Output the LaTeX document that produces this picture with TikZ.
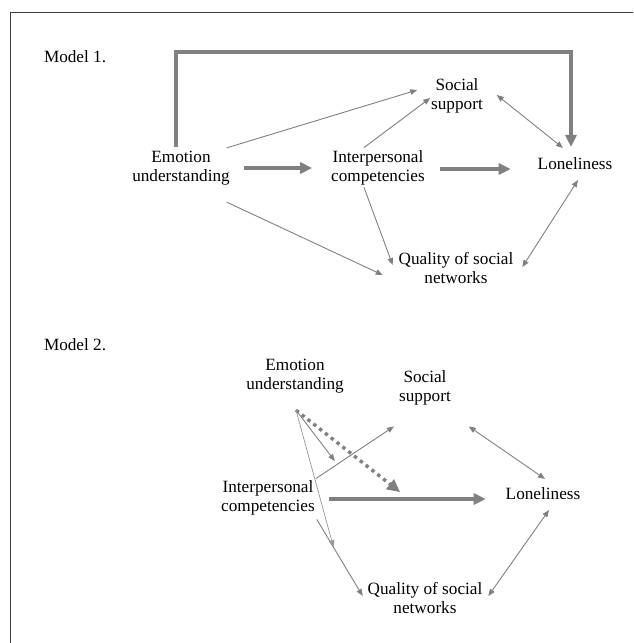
\documentclass[tikz,border=0pt]{standalone}
\usepackage{fontspec}
\setmainfont{Liberation Serif}
\usetikzlibrary{arrows.meta}
\definecolor{arrgray}{RGB}{128,128,128}
\definecolor{lightgray2}{RGB}{150,150,150}
\definecolor{framegray}{RGB}{60,60,60}
\begin{document}
\begin{tikzpicture}[x=1pt,y=-1pt,
  lbl/.style={font=\fontsize{17.2}{19.2}\selectfont, align=center, inner sep=0pt, outer sep=0pt},
  thinarr/.style={draw=arrgray, line width=0.9pt, -{Triangle[length=7pt,width=5.5pt]}},
  dblarr/.style={draw=arrgray, line width=0.9pt, {Triangle[length=7pt,width=5.5pt]}-{Triangle[length=7pt,width=5.5pt]}},
  thickarr/.style={draw=arrgray, line width=3.6pt, -{Triangle[length=12pt,width=11pt]}},
  dotarr/.style={draw=arrgray, line width=3.4pt, dash pattern=on 3.4pt off 4pt, -{Triangle[length=13pt,width=12pt]}},
  faintarr/.style={draw=lightgray2, line width=0.7pt, -{Triangle[length=7pt,width=5.5pt]}}
]
\useasboundingbox (0,0) rectangle (633,643);
\draw[framegray, line width=1pt] (633,12.5) -- (10,12.5) -- (10,643);

% Model 1
\node[lbl, anchor=base west] (m1) at (44,62) {Model 1.};
\node[lbl] (eu) at (181,168) {Emotion\\understanding};
\node[lbl] (ic) at (378,168) {Interpersonal\\competencies};
\node[lbl] (ss) at (457,96) {Social\\support};
\node[lbl] (lon) at (575,164) {Loneliness};
\node[lbl] (qsn) at (456,268) {Quality of social\\networks};

\draw[thickarr] ([shift={(14,0)}]eu.east) -- ([shift={(-19,0)}]ic.west);
\draw[thickarr] ([shift={(15,1)}]ic.east) -- ([shift={(-27,5)}]lon.west);
\draw[thickarr] ([shift={(-5,-4)}]eu.north) -- ++(0,-95) -| ([shift={(-4,-11)}]lon.north);
\draw[thinarr] ([shift={(-3,-3)}]eu.north east) -- ([shift={(-14,-6)}]ss.west);
\draw[thinarr] ([shift={(-14,-3)}]ic.north) -- ([shift={(-1,2)}]ss.west);
\draw[dblarr] ([shift={(14,-1)}]ss.east) -- ([shift={(-12,-10)}]lon.north);
\draw[thinarr] ([shift={(-3,17)}]eu.south east) -- ([shift={(-16,7)}]qsn.west);
\draw[thinarr] ([shift={(-14,2)}]ic.south) -- ([shift={(-6,-3)}]qsn.west);
\draw[dblarr] ([shift={(3,10)}]lon.south) -- ([shift={(9,-1)}]qsn.east);

% Model 2
\node[lbl, anchor=base west] (m2) at (44,350) {Model 2.};
\node[lbl] (eu2) at (295,376) {Emotion\\understanding};
\node[lbl] (ss2) at (425,388) {Social\\support};
\node[lbl] (ic2) at (268,498) {Interpersonal\\competencies};
\node[lbl] (lon2) at (543,494) {Loneliness};
\node[lbl] (qsn2) at (425,598) {Quality of social\\networks};

\coordinate (src) at ([shift={(1,17)}]eu2.south);
\draw[thinarr] ([shift={(1,-2)}]ic2.north east) -- coordinate[pos=0.275] (mss) ([shift={(-31,21)}]ss2.south);
\draw[thickarr] ([shift={(14,1)}]ic2.east) -- coordinate[pos=0.51] (mlon) ([shift={(-20,5)}]lon2.west);
\draw[thinarr] ([shift={(2,4)}]ic2.south east) -- coordinate[pos=0.364] (mqsn) ([shift={(-5,-2)}]qsn2.west);
\draw[dblarr] ([shift={(18,21)}]ss2.south east) -- ([shift={(2,-9)}]lon2.north);
\draw[dblarr] ([shift={(6,10)}]lon2.south) -- ([shift={(6,-2)}]qsn2.east);

\draw[thinarr, shorten >=4pt] (src) -- (mss);
\draw[dotarr, shorten >=11pt] (src) -- (mlon);
\draw[faintarr] (src) -- (mqsn);
\end{tikzpicture}
\end{document}
